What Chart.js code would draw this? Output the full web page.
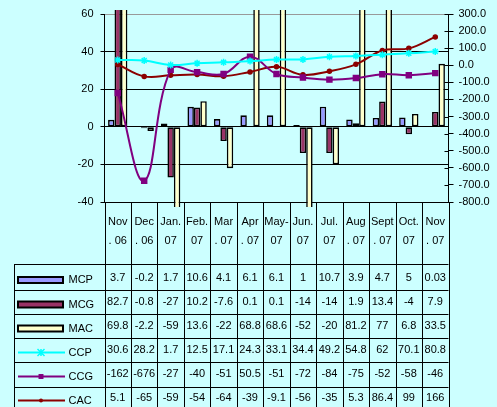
<!DOCTYPE html>
<html>
<head>
<meta charset="utf-8">
<script src="https://cdn.jsdelivr.net/npm/chart.js@4/dist/chart.umd.min.js"></script>
<style>
  html, body { margin: 0; padding: 0; background: #CCFFFF; }
  canvas { display: block; }
</style>
</head>
<body>
<canvas id="chart" width="497" height="407"></canvas>
<script>
const months = [
    ['Nov', '. 06'], ['Dec', '. 06'], ['Jan.', '07'], ['Feb.', '07'], ['Mar', '. 07'],
    ['Apr', '. 07'], ['May-', '07'], ['Jun.', '07'], ['Jul.', '07'], ['Aug', '. 07'],
    ['Sept', '. 07'], ['Oct.', '07'], ['Nov', '. 07']
];
const mcp = [3.7, -0.2, 1.7, 10.6, 4.1, 6.1, 6.1, 1, 10.7, 3.9, 4.7, 5, 0.03];
const mcg = [82.7, -0.8, -27, 10.2, -7.6, 0.1, 0.1, -14, -14, 1.9, 13.4, -4, 7.9];
const mac = [69.8, -2.2, -59, 13.6, -22, 68.8, 68.6, -52, -20, 81.2, 77, 6.8, 33.5];
const ccp = [30.6, 28.2, 1.7, 12.5, 17.1, 24.3, 33.1, 34.4, 49.2, 54.8, 62, 70.1, 80.8];
const ccg = [-162, -676, -27, -40, -51, 50.5, -51, -72, -84, -75, -52, -58, -46];
const cac = [5.1, -65, -59, -54, -64, -39, -9.1, -56, -35, 5.3, 86.4, 99, 166];

const leftAxis = { min: -40, max: 60, step: 20 };
const rightAxis = { min: -800, max: 300, step: 100 };

// table layout (pixels)
const rowTop = [264, 290, 314, 338, 362, 387];
const rowMid = [277.5, 302, 326, 350, 374, 398];
const tableLeft = 14.5;
const FONT = '11px "Liberation Sans", Arial, sans-serif';

const tablePlugin = {
    id: 'dataTable',
    beforeDraw(chart) {
        const ctx = chart.ctx;
        ctx.save();
        ctx.fillStyle = '#CCFFFF';
        ctx.fillRect(0, 0, chart.width, chart.height);
        ctx.restore();
    },
    afterDraw(chart) {
        const { ctx, chartArea: area, scales: { x, y2 } } = chart;
        const colW = (area.right - area.left) / months.length;
        ctx.save();
        ctx.strokeStyle = '#000';
        ctx.lineWidth = 1;
        ctx.beginPath();
        // column borders
        for (let i = 0; i <= months.length; i++) {
            const px = Math.round(x.getPixelForValue(i) - colW / 2) + 0.5;
            ctx.moveTo(px, area.bottom);
            ctx.lineTo(px, chart.height);
        }
        ctx.moveTo(tableLeft, rowTop[0]);
        ctx.lineTo(tableLeft, chart.height);
        rowTop.forEach(t => {
            ctx.moveTo(tableLeft, t + 0.5);
            ctx.lineTo(area.right, t + 0.5);
        });
        // inner half of right axis ticks
        y2.ticks.forEach(t => {
            const py = Math.round(y2.getPixelForValue(t.value)) + 0.5;
            ctx.moveTo(area.right - 4, py);
            ctx.lineTo(area.right, py);
        });
        ctx.stroke();

        // values
        ctx.font = FONT;
        ctx.fillStyle = '#000';
        ctx.textAlign = 'center';
        ctx.textBaseline = 'middle';
        chart.data.datasets.forEach((ds, r) => {
            ds.data.forEach((v, i) => ctx.fillText(String(v), x.getPixelForValue(i), rowMid[r]));
        });

        // legend keys
        chart.data.datasets.forEach((ds, r) => {
            const ky = rowMid[r] + 2.5;
            if (ds.type === 'line') {
                ctx.strokeStyle = ds.borderColor;
                ctx.lineWidth = 2;
                ctx.beginPath();
                ctx.moveTo(18, ky);
                ctx.lineTo(65, ky);
                ctx.stroke();
                drawMarker(ctx, ds, 41, ky);
            } else {
                ctx.fillStyle = ds.backgroundColor;
                ctx.fillRect(18, ky - 3, 45, 6);
                ctx.strokeStyle = '#000';
                ctx.lineWidth = 2;
                ctx.strokeRect(18, ky - 3, 45, 6);
            }
            ctx.fillStyle = '#000';
            ctx.textAlign = 'left';
            ctx.fillText(ds.label, 68.5, ky);
        });
        ctx.restore();
    }
};

function drawMarker(ctx, ds, cx, cy) {
    const r = ds.pointRadius;
    ctx.fillStyle = ds.borderColor;
    ctx.strokeStyle = ds.borderColor;
    ctx.lineWidth = 1.5;
    if (ds.pointStyle === 'rect') {
        const s = r * Math.SQRT1_2;
        ctx.fillRect(cx - s, cy - s, 2 * s, 2 * s);
    } else if (ds.pointStyle === 'star') {
        ctx.beginPath();
        ctx.moveTo(cx - r, cy - r); ctx.lineTo(cx + r, cy + r);
        ctx.moveTo(cx - r, cy + r); ctx.lineTo(cx + r, cy - r);
        ctx.moveTo(cx, cy - r); ctx.lineTo(cx, cy + r);
        ctx.stroke();
    } else {
        ctx.beginPath();
        ctx.arc(cx, cy, r, 0, Math.PI * 2);
        ctx.fill();
    }
}

const barStyle = { type: 'bar', yAxisID: 'y', borderColor: '#000', borderWidth: 1.6, borderSkipped: false,
    categoryPercentage: 0.73, barPercentage: 1.0, order: 2, clip: { left: 0, right: 0, top: 4, bottom: 5 } };
const lineStyle = { type: 'line', yAxisID: 'y2', borderWidth: 2, tension: 0.4, order: 1, pointBorderWidth: 1.5 };

new Chart(document.getElementById('chart'), {
    data: {
        labels: months,
        datasets: [
            { ...barStyle, label: 'MCP', data: mcp, backgroundColor: '#9999FF' },
            { ...barStyle, label: 'MCG', data: mcg, backgroundColor: '#993366' },
            { ...barStyle, label: 'MAC', data: mac, backgroundColor: '#FFFFCC' },
            { ...lineStyle, label: 'CCP', data: ccp, borderColor: '#00FFFF', backgroundColor: '#00FFFF', pointStyle: 'star', pointRadius: 3.5 },
            { ...lineStyle, label: 'CCG', data: ccg, borderColor: '#800080', backgroundColor: '#800080', pointStyle: 'rect', pointRadius: 3.5 },
            { ...lineStyle, label: 'CAC', data: cac, borderColor: '#8B0000', backgroundColor: '#8B0000', pointStyle: 'circle', pointRadius: 2 }
        ]
    },
    options: {
        responsive: false,
        animation: false,
        devicePixelRatio: 1,
        layout: { padding: { top: 14, left: 0, right: 0, bottom: 0 } },
        plugins: { legend: { display: false }, tooltip: { enabled: false } },
        scales: {
            x: {
                offset: true,
                grid: { display: false, drawTicks: false },
                border: { display: false },
                ticks: { color: '#000', font: { family: '"Liberation Sans", Arial, sans-serif', size: 11, lineHeight: '19px' },
                    padding: 10, maxRotation: 0, autoSkip: false },
                afterFit: s => { s.height = 205; }
            },
            y: {
                position: 'left',
                min: leftAxis.min, max: leftAxis.max,
                ticks: { stepSize: leftAxis.step, color: '#000', padding: 7,
                    font: { family: '"Liberation Sans", Arial, sans-serif', size: 11 } },
                grid: { color: c => (c.tick && c.tick.value === leftAxis.max ? '#999999' : '#000'),
                    lineWidth: 1, tickLength: 4, tickColor: '#000' },
                border: { display: true, color: '#000', width: 1 },
                afterFit: s => { s.width = 104.5; }
            },
            y2: {
                position: 'right',
                min: rightAxis.min, max: rightAxis.max,
                ticks: { stepSize: rightAxis.step, color: '#000', padding: 5,
                    font: { family: '"Liberation Sans", Arial, sans-serif', size: 11 },
                    callback: v => v.toFixed(1) },
                grid: { drawOnChartArea: false, tickLength: 5, tickColor: '#000' },
                border: { display: true, color: '#000', width: 1 },
                afterFit: s => { s.width = 48.5; }
            }
        }
    },
    plugins: [tablePlugin]
});
</script>
</body>
</html>
